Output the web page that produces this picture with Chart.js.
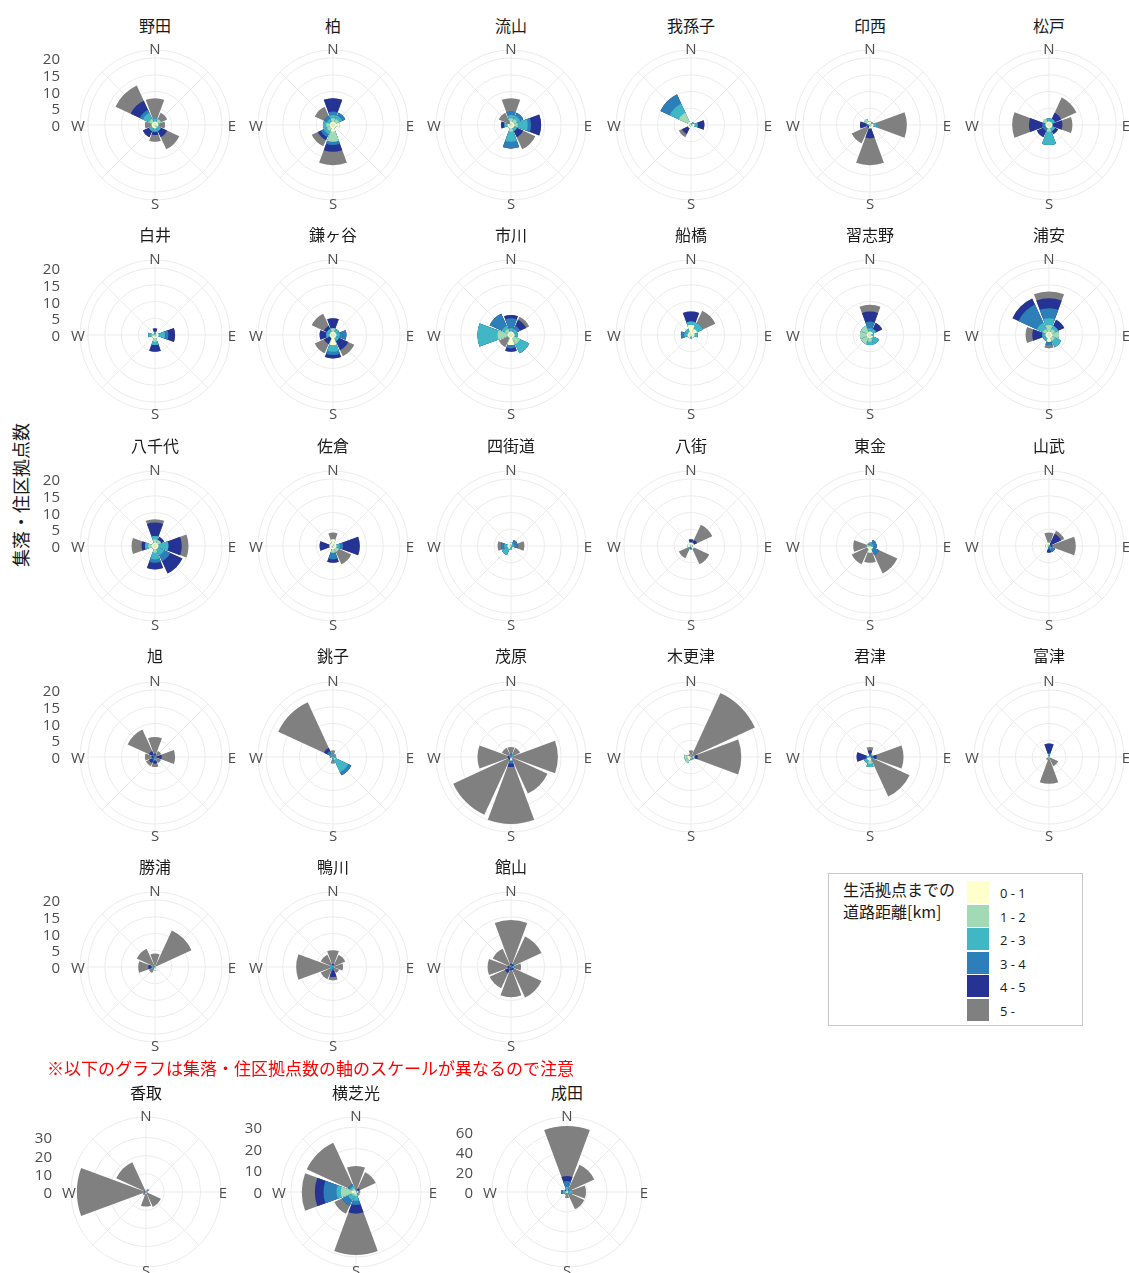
<!DOCTYPE html>
<html><head><meta charset="utf-8">
<script src="https://cdn.jsdelivr.net/npm/chart.js@4"></script>
<style>
body{margin:0;background:#fff;}
#wrap{position:relative;width:1129px;height:1273px;overflow:hidden;font-family:"Noto Sans CJK JP","Noto Sans",sans-serif;background:#fff;}
.t{position:absolute;white-space:nowrap;transform:translate(-50%,-50%);line-height:1;}
.r{position:absolute;white-space:nowrap;transform:translate(-100%,-50%);line-height:1;}
.l{position:absolute;white-space:nowrap;transform:translate(0,-50%);line-height:1;}
canvas{position:absolute;}
</style></head><body><div id="wrap"></div>
<script>
// ---- categories ----
const directions = ['N','NE','E','SE','S','SW','W','NW'];
const classes = ['0 - 1','1 - 2','2 - 3','3 - 4','4 - 5','5 -'];
const colors = ['#ffffcc','#a1dab4','#41b6c4','#2c7fb8','#253494','#808080'];
const ticksMain = [0,5,10,15,20];
const ticksKatori = [0,10,20,30];
const ticksYokoshiba = [0,10,20,30];
const ticksNarita = [0,20,40,60];
// ---- series values: rows = directions (N..NW), columns = classes ----
const noda = [[1,0,1,0,0,6],[1,1,0,0,0,2],[1,0,0,0,0,2],[0,1,1,0,2,4],[1,0,1,0,1,2],[1,0,1,0,2,0],[1,0,0,0,0,2],[1,1,2,1,3,5]];
const kashiwa = [[1,1,1,1,4,0],[1,1,1,1,0,0],[2,0,0,0,0,0],[1,0,0,0,0,0],[2,3,0,1,2,4],[1,1,1,1,1,2],[1,1,1,0,0,0],[1,0,1,1,0,3]];
const nagareyama = [[1,1,1,1,0,4],[1,1,1,1,0,0],[1,1,3,1,3,0],[1,0,1,0,2,4],[1,1,3,2,0,0],[1,0,0,0,0,0],[1,0,1,0,1,0],[0,0,1,0,0,3]];
const abiko = [[0,0,0,0,0,0],[0,0,1,0,0,0],[1,0,1,0,2,0],[0,0,0,0,0,0],[0,0,0,0,0,0],[1,0,0,0,2,1],[0,0,0,0,0,0],[1,3,3,3,0,0]];
const inzai = [[1,0,0,0,0,0],[0,0,1,0,0,0],[1,0,1,0,0,9],[0,0,0,0,0,0],[1,0,0,0,3,8],[0,0,0,0,1,5],[0,0,0,1,2,0],[1,1,0,0,0,0]];
const matsudo = [[1,0,1,0,0,0],[1,0,1,0,2,5],[1,0,0,0,3,3],[1,0,1,0,1,0],[1,1,4,0,0,0],[1,0,0,1,2,0],[1,0,0,1,4,5],[1,1,0,0,0,0]];
const shiroi = [[0,0,1,0,1,0],[0,0,0,0,0,0],[1,0,2,1,2,0],[0,0,0,0,0,0],[1,1,1,0,2,0],[1,0,0,0,0,0],[0,1,1,0,0,0],[0,0,0,0,0,0]];
const kamagaya = [[1,1,0,0,3,0],[1,0,1,0,0,0],[1,0,1,2,0,0],[1,0,1,0,3,2],[3,0,2,1,1,0],[1,0,0,0,2,3],[1,0,1,0,2,0],[1,0,1,0,1,4]];
const ichikawa = [[1,0,1,3,1,0],[1,0,1,1,2,1],[1,0,1,0,0,0],[1,2,3,0,0,0],[3,0,0,1,1,0],[1,0,0,0,0,3],[1,3,6,0,0,0],[1,1,1,4,0,0]];
const funabashi = [[3,0,1,0,3,0],[2,0,2,0,0,4],[1,0,1,0,0,0],[1,0,0,0,0,0],[0,0,1,0,0,0],[1,0,0,0,0,0],[1,0,1,1,0,0],[1,0,1,0,0,0]];
const narashino = [[1,0,1,2,3,2],[1,0,1,0,2,0],[0,0,1,0,0,0],[1,0,2,0,0,0],[1,1,1,0,0,0],[1,2,0,0,0,0],[1,2,0,0,0,0],[1,2,0,0,0,0]];
const urayasu = [[1,2,2,3,3,2],[1,1,1,0,2,0],[1,2,0,0,0,0],[1,1,2,0,0,0],[2,0,0,1,0,1],[1,0,1,0,0,0],[1,0,1,0,3,2],[1,1,2,6,2,0]];
const yachiyo = [[1,1,1,0,4,1],[1,1,0,0,1,0],[1,0,3,0,4,2],[1,0,2,2,4,0],[1,1,2,1,2,0],[1,0,0,0,0,0],[1,1,1,0,1,3],[1,0,0,0,0,0]];
const sakura = [[2,0,0,0,0,2],[0,0,0,0,0,0],[1,0,1,1,5,0],[1,1,0,0,0,4],[1,1,0,2,1,0],[0,0,0,0,0,0],[1,0,0,0,3,0],[1,0,0,0,0,0]];
const yotsukaido = [[1,0,0,0,0,0],[0,0,1,1,0,0],[0,0,1,1,0,2],[0,0,0,0,0,0],[0,0,1,0,0,0],[1,0,2,0,0,0],[1,0,1,1,0,1],[0,0,0,0,0,0]];
const yachimata = [[1,0,0,0,1,0],[1,0,0,0,1,5],[0,0,0,0,0,0],[1,0,0,0,0,5],[0,0,0,1,0,0],[0,0,1,0,0,3],[1,0,0,0,0,0],[0,0,0,0,0,0]];
const togane = [[0,0,1,0,0,0],[0,0,1,1,0,0],[0,0,1,1,0,0],[1,0,0,2,0,6],[2,0,0,0,0,3],[1,0,0,0,0,5],[0,1,0,0,0,4],[0,0,0,0,0,1]];
const sanmu = [[1,0,0,0,0,3],[0,0,0,0,4,1],[0,0,0,0,1,7],[0,0,1,1,0,0],[0,0,0,1,1,0],[0,0,0,0,0,0],[1,0,0,0,0,0],[0,0,0,0,0,0]];
const asahi = [[0,0,0,0,1,5],[0,0,0,0,0,2],[0,0,0,0,2,4],[0,0,0,0,0,2],[0,0,1,0,1,1],[0,0,0,1,1,1],[0,0,0,0,1,2],[0,0,0,1,1,7]];
const choshi = [[0,0,0,0,0,2],[0,0,1,0,0,0],[0,0,0,0,0,1],[0,1,4,1,0,0],[0,0,1,0,0,1],[0,0,0,0,0,0],[0,0,0,0,0,1],[0,0,1,1,1,15]];
const mobara = [[0,0,0,1,0,2],[0,0,1,0,0,2],[0,0,0,0,0,14],[0,0,0,0,0,12],[1,0,0,1,1,17],[0,0,0,0,1,18],[0,0,0,0,1,9],[0,0,0,0,0,3]];
const kisarazu = [[0,0,0,0,0,2],[0,0,0,0,0,21],[0,1,0,0,1,13],[0,0,0,0,0,1],[0,0,0,0,0,1],[1,1,0,0,0,0],[1,1,0,0,0,0],[0,0,0,0,0,1]];
const kimitsu = [[0,0,0,1,1,1],[0,0,0,0,0,1],[0,0,0,1,1,8],[0,0,1,0,0,12],[1,1,1,0,0,0],[1,0,1,0,0,0],[0,0,1,0,3,0],[0,0,0,0,0,0]];
const futtsu = [[0,0,1,0,3,0],[0,0,0,0,0,0],[0,0,0,0,0,0],[0,0,0,0,0,3],[0,0,0,0,0,8],[0,0,0,0,0,1],[0,0,0,0,0,0],[0,0,0,0,0,0]];
const katsuura = [[0,0,0,0,0,4],[0,0,0,0,0,12],[0,0,0,0,0,0],[0,0,0,0,0,0],[1,0,0,0,0,0],[0,0,0,0,0,2],[0,0,1,0,1,3],[0,0,0,0,0,6]];
const kamogawa = [[0,0,0,0,1,4],[0,0,0,0,0,4],[0,0,0,0,0,3],[0,0,0,0,0,2],[0,0,0,1,2,1],[0,0,1,0,0,3],[0,0,1,0,0,10],[0,0,1,0,0,3]];
const tateyama = [[0,0,0,0,1,13],[0,0,0,0,1,9],[0,0,1,0,0,2],[0,0,0,0,1,9],[0,0,0,0,1,8],[0,0,0,1,1,5],[0,0,0,0,1,6],[0,0,0,0,0,6]];
const katori = [[0,0,0,0,0,1],[0,0,0,0,0,2],[0,0,0,0,0,1],[0,0,0,0,0,9],[1,0,0,0,0,7],[0,0,0,0,0,2],[0,0,0,0,1,37],[0,0,0,0,0,18]];
const yokoshibahikari = [[0,0,0,0,1,11],[0,0,1,0,1,8],[1,0,0,0,0,1],[0,0,0,0,0,2],[1,1,2,2,4,19],[1,1,2,3,0,4],[2,5,2,6,4,6],[1,1,1,1,0,21]];
const narita = [[1,1,3,6,5,50],[1,0,1,1,0,27],[1,0,4,0,0,14],[1,0,1,0,0,17],[1,0,1,0,0,4],[1,0,2,0,0,0],[1,1,2,2,0,0],[0,0,1,1,1,0]];

const colX = [155,333,511,691,870,1049];
const rowY = [125,335,546,757,967];
const titleY = [25,234,445,655,866];
const panels = [
  ['野田',noda],['柏',kashiwa],['流山',nagareyama],['我孫子',abiko],['印西',inzai],['松戸',matsudo],
  ['白井',shiroi],['鎌ヶ谷',kamagaya],['市川',ichikawa],['船橋',funabashi],['習志野',narashino],['浦安',urayasu],
  ['八千代',yachiyo],['佐倉',sakura],['四街道',yotsukaido],['八街',yachimata],['東金',togane],['山武',sanmu],
  ['旭',asahi],['銚子',choshi],['茂原',mobara],['木更津',kisarazu],['君津',kimitsu],['富津',futtsu],
  ['勝浦',katsuura],['鴨川',kamogawa],['館山',tateyama]
];

const wrap = document.getElementById('wrap');
function txt(cls, s, x, y, style){
  const d = document.createElement('div');
  d.className = cls; d.textContent = s;
  d.style.left = x+'px'; d.style.top = y+'px';
  if (style) d.style.cssText += style;
  wrap.appendChild(d); return d;
}

const spokes = {
  id:'spokes',
  beforeDatasetsDraw(chart){
    const s = chart.scales.r, ctx = chart.ctx;
    ctx.save(); ctx.strokeStyle = '#ebebeb'; ctx.lineWidth = 1;
    for (let i=0;i<8;i++){
      const a = i*Math.PI/4 - Math.PI/2;
      ctx.beginPath(); ctx.moveTo(s.xCenter, s.yCenter);
      ctx.lineTo(s.xCenter + Math.cos(a)*s.drawingArea, s.yCenter + Math.sin(a)*s.drawingArea);
      ctx.stroke();
    }
    ctx.restore();
  }
};

const SIZE = 150, R = 75;
const dirFont = 'font-size:15px;color:#4d4d4d;font-family:"Open Sans","Noto Sans",sans-serif;';
function panel(title, rows, cx, cy, ty, max, step){
  const c = document.createElement('canvas');
  c.width = SIZE; c.height = SIZE;
  c.style.left = (cx - R)+'px'; c.style.top = (cy - R)+'px';
  c.style.width = SIZE+'px'; c.style.height = SIZE+'px';
  wrap.appendChild(c);
  const datasets = classes.map((cl, k) => {
    const cum = rows.map(r => r.slice(0, k+1).reduce((a,b)=>a+b, 0));
    return {
      label: cl,
      data: cum.flatMap(v => [v, 0]),
      angle: cum.flatMap(() => [40.5, 4.5]),
      backgroundColor: colors[k],
      borderWidth: 0
    };
  });
  new Chart(c, {
    type:'polarArea',
    data:{labels: directions.flatMap(d => [d, '']), datasets},
    options:{
      responsive:false, animation:false, events:[], devicePixelRatio:1,
      layout:{padding:0},
      plugins:{legend:{display:false}, tooltip:{enabled:false}},
      scales:{r:{min:0, max, startAngle:-20.25,
        ticks:{display:false, stepSize:step},
        grid:{color:'#ebebeb', lineWidth:1},
        angleLines:{display:false},
        pointLabels:{display:false}}}
    },
    plugins:[spokes]
  });
  txt('t', title, cx, ty, 'font-size:16px;color:#1a1a1a;');
  txt('t','N', cx, cy-77, dirFont);
  txt('t','S', cx, cy+78, dirFont);
  txt('t','E', cx+77, cy, dirFont);
  txt('t','W', cx-77, cy, dirFont);
}
function tickLabels(ticks, xRight, cy, pxPerUnit){
  ticks.forEach(v => txt('r', String(v), xRight, cy - v*pxPerUnit, dirFont));
}

const MAIN_PX = 3.35;
panels.forEach(([name, rows], i) => {
  const col = i % 6, row = Math.floor(i / 6);
  panel(name, rows, colX[col], rowY[row], titleY[row], R / MAIN_PX, 5);
});
for (let row=0; row<5; row++) tickLabels(ticksMain, 60, rowY[row], MAIN_PX);

// bottom row with different scales
panel('香取', katori, 146, 1192, 1092, R/1.82, 10);
tickLabels(ticksKatori, 52, 1192, 1.82);
panel('横芝光', yokoshibahikari, 356, 1192, 1092, R/2.17, 10);
tickLabels(ticksYokoshiba, 262, 1192, 2.17);
panel('成田', narita, 567, 1192, 1092, R/1.0, 20);
tickLabels(ticksNarita, 473, 1192, 1.0);

// axis title
txt('t','集落・住区拠点数', 20, 495, 'font-size:18px;color:#1a1a1a;transform:translate(-50%,-50%) rotate(-90deg);');
// note
txt('l','※以下のグラフは集落・住区拠点数の軸のスケールが異なるので注意', 47, 1067, 'font-size:17px;color:#ff0000;');

// legend
const box = document.createElement('div');
box.style.cssText = 'position:absolute;left:828px;top:873px;width:253px;height:151px;border:1px solid #c8c8c8;';
wrap.appendChild(box);
txt('l','生活拠点までの', 843, 889, 'font-size:16px;color:#1a1a1a;');
txt('l','道路距離[km]', 843, 911, 'font-size:16px;color:#1a1a1a;');
const swY = [881,905,928,952,975,999];
classes.forEach((cl, k) => {
  const s = document.createElement('div');
  s.style.cssText = `position:absolute;left:967px;top:${swY[k]}px;width:22px;height:22px;background:${colors[k]};`;
  wrap.appendChild(s);
  txt('l', cl, 1000, swY[k]+12, 'font-size:13px;color:#1a1a1a;font-family:"Open Sans","Noto Sans",sans-serif;');
});
</script></body></html>
